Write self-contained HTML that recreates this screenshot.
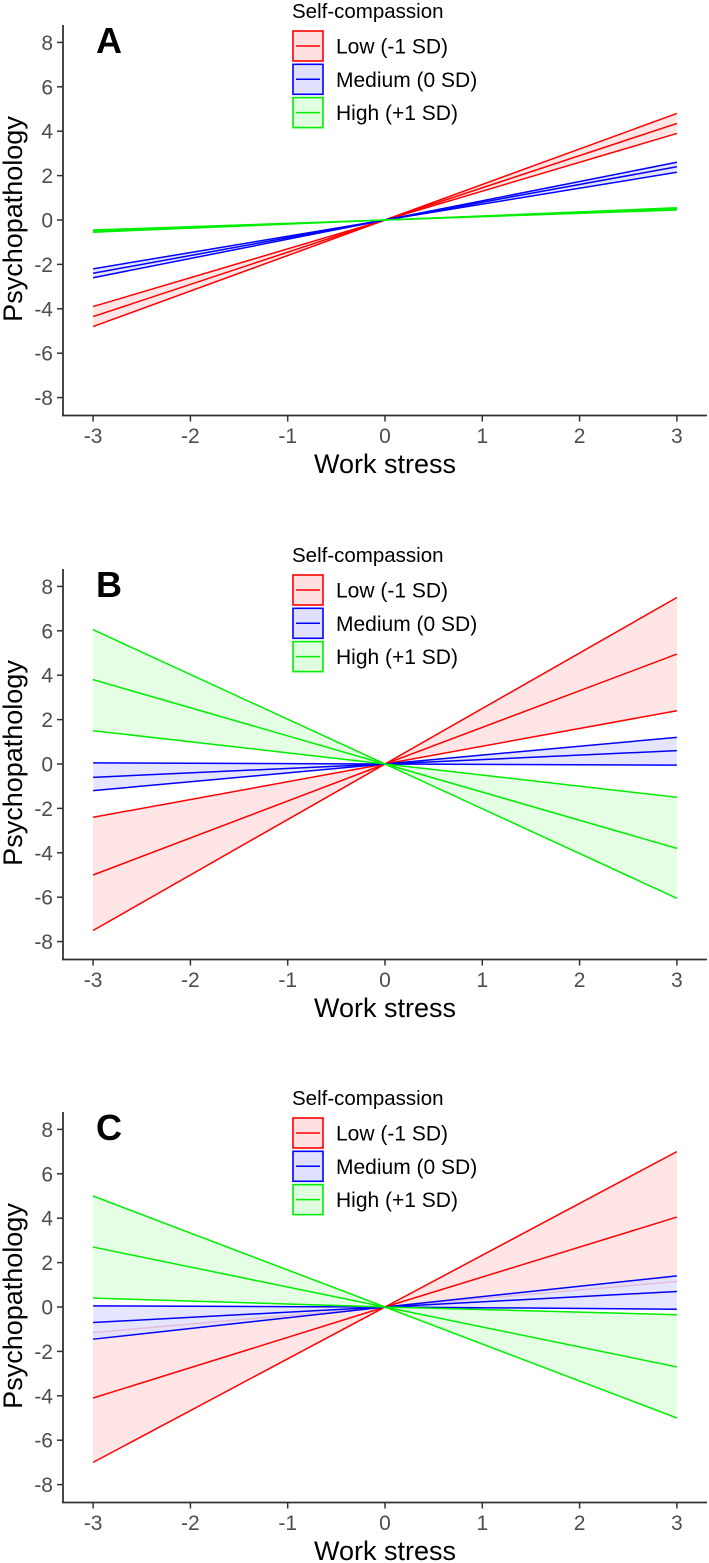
<!DOCTYPE html>
<html><head><meta charset="utf-8"><style>
html,body{margin:0;padding:0;background:#fff}
svg{display:block}
text{font-family:"Liberation Sans",Arial,sans-serif}
</style></head><body>
<svg id="fig" width="709" height="1563" viewBox="0 0 709 1563" xmlns="http://www.w3.org/2000/svg"></svg>
<script>
// Data: line values at x = -3 and x = 3 (all lines pass through origin)
const xTicks = [-3, -2, -1, 0, 1, 2, 3];
const yTicks = [-8, -6, -4, -2, 0, 2, 4, 6, 8];
const groupNames = ["Low (-1 SD)", "Medium (0 SD)", "High (+1 SD)"];
const groupColors = ["#ff0000", "#0000ff", "#00ee00"];
const groupFills = ["#ffe0e0", "#e0e0ff", "#e0ffe0"];
const panelA_left  = [[-3.9,-4.35,-4.8],[-2.2,-2.4,-2.6],[-0.45,-0.5,-0.55]];
const panelA_right = [[4.8,4.35,3.9],[2.6,2.4,2.15],[0.55,0.5,0.45]];
const panelB_left  = [[-2.4,-5.0,-7.5],[0.05,-0.6,-1.2],[6.05,3.8,1.5]];
const panelB_right = [[7.5,4.95,2.4],[1.2,0.6,-0.05],[-1.5,-3.8,-6.05]];
const panelC_left  = [[-1.15,-4.1,-7.0],[0.05,-0.7,-1.45],[5.0,2.7,0.4]];
const panelC_right = [[7.0,4.05,1.15],[1.4,0.7,-0.1],[-0.35,-2.7,-5.0]];
const panelLetters = ["A","B","C"];

const NS = "http://www.w3.org/2000/svg";
const svg = document.getElementById("fig");
function el(tag, attrs, parent, txt){
  const e = document.createElementNS(NS, tag);
  for (const k in attrs) e.setAttribute(k, attrs[k]);
  if (txt !== undefined) e.textContent = txt;
  (parent || svg).appendChild(e);
  return e;
}
function panel(off, letter, leftVals, rightVals){
  const g = el("g", {});
  
  
  const zeroY = 220 + off, unit = 22.2, x0 = 385, xu = 97.3;
  const sx = v => x0 + v * xu;
  const sy = v => zeroY - v * unit;
  for (let gi = 0; gi < 3; gi++){
    const L = leftVals[gi], R = rightVals[gi];
    const lMax = Math.max(...L), lMin = Math.min(...L), rMax = Math.max(...R), rMin = Math.min(...R);
    const band = el("polygon", {points:
      `${sx(-3)},${sy(lMax)} ${sx(0)},${sy(0)} ${sx(3)},${sy(rMax)} ${sx(3)},${sy(rMin)} ${sx(0)},${sy(0)} ${sx(-3)},${sy(lMin)}`,
      fill: groupFills[gi], "fill-opacity": 0.85, stroke: "none"}, g);
    
    
    for (let k = 0; k < 3; k++){
      const ln = el("polyline", {points: `${sx(-3)},${sy(L[k])} ${sx(0)},${sy(0)} ${sx(3)},${sy(R[k])}`,
        fill: "none", stroke: groupColors[gi], "stroke-width": 1.5}, g);
      
      
    }
  }
  const axY = 415.5 + off, axTop = 25 + off;
  const ya = el("line", {x1: 63, y1: axTop, x2: 63, y2: axY, stroke: "#333", "stroke-width": 1.8}, g);
  
  
  const xa = el("line", {x1: 62, y1: axY, x2: 707, y2: axY, stroke: "#333", "stroke-width": 1.8}, g);
  
  
  yTicks.forEach(t => {
    el("line", {x1: 57, y1: sy(t), x2: 63, y2: sy(t), stroke: "#333", "stroke-width": 1.5}, g);
    const tl = el("text", {x: 53, y: sy(t) + 7.5, "text-anchor": "end", "font-size": 21, fill: "#4d4d4d"}, g, String(t));
    
    
  });
  xTicks.forEach(t => {
    el("line", {x1: sx(t), y1: axY, x2: sx(t), y2: axY + 6, stroke: "#333", "stroke-width": 1.5}, g);
    const tl = el("text", {x: sx(t), y: 443 + off, "text-anchor": "middle", "font-size": 21, fill: "#4d4d4d"}, g, String(t));
    
    
  });
  const xt = el("text", {x: 385, y: 473 + off, "text-anchor": "middle", "font-size": 27, fill: "#000"}, g, "Work stress");
  
  
  const yt = el("text", {x: 0, y: 0, transform: `translate(22,${219 + off}) rotate(-90)`, "text-anchor": "middle", "font-size": 27, fill: "#000"}, g, "Psychopathology");
  
  
  const lt = el("text", {x: 96, y: 53 + off, "font-size": 36, "font-weight": "bold", fill: "#000"}, g, letter);
  
  
  const lg = el("g", {}, g);
  
  
  const ltl = el("text", {x: 292, y: 18 + off, "font-size": 20.5, fill: "#000"}, lg, "Self-compassion");
  
  
  for (let gi = 0; gi < 3; gi++){
    const by = 31 + off + gi * 33.3;
    const entry = el("g", {}, lg);
    
    
    el("rect", {x: 293, y: by, width: 30, height: 30, fill: groupFills[gi], stroke: groupColors[gi], "stroke-width": 1.6}, entry);
    el("line", {x1: 296, y1: by + 15, x2: 320, y2: by + 15, stroke: groupColors[gi], "stroke-width": 1.5}, entry);
    el("text", {x: 336, y: by + 22.5, "font-size": 21, fill: "#000"}, entry, groupNames[gi]);
  }
}
panel(0, panelLetters[0], panelA_left, panelA_right);
panel(544, panelLetters[1], panelB_left, panelB_right);
panel(1087, panelLetters[2], panelC_left, panelC_right);
</script>
</body></html>
